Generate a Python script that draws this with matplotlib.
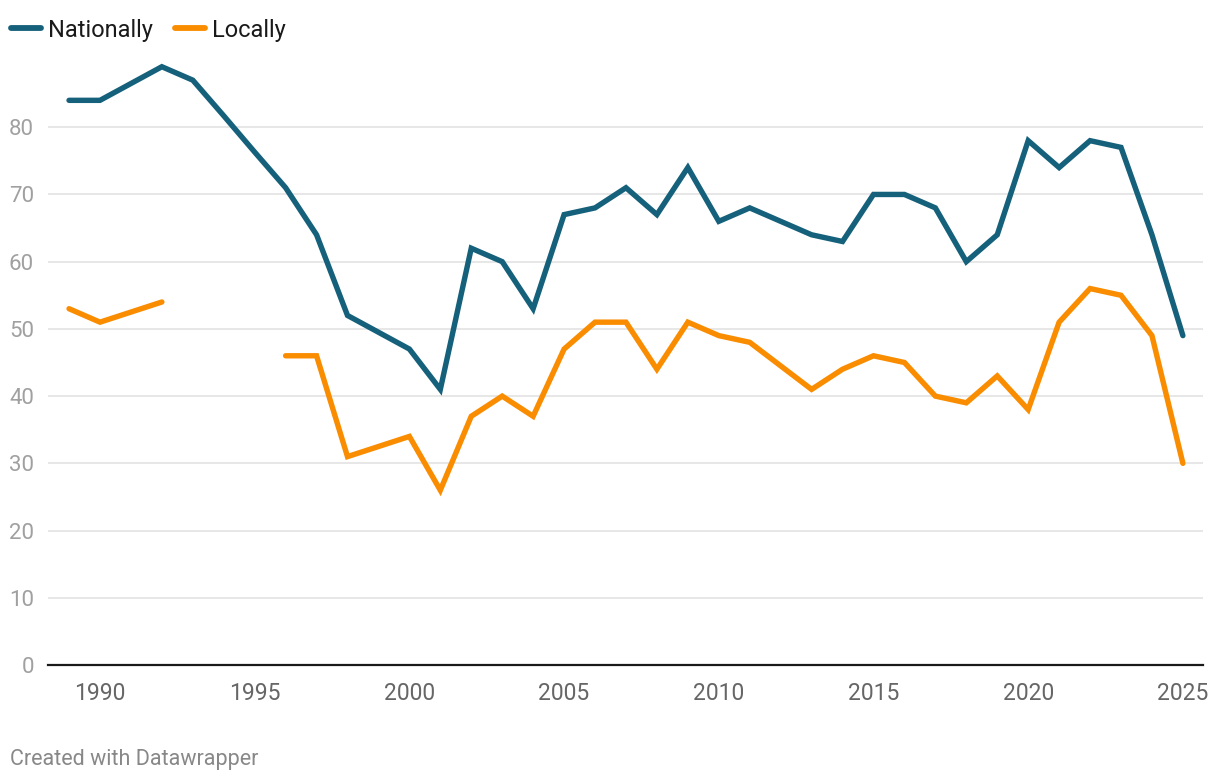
import numpy as np
import matplotlib.pyplot as plt
from matplotlib.lines import Line2D

plt.rcParams['font.family'] = ['Roboto', 'DejaVu Sans']

years = list(range(1989, 2026))
nationally = [84, 84, 86.5, 89, 87, 81.7, 76.3, 71, 64, 52, 49.5, 47, 41, 62, 60, 53,
              67, 68, 71, 67, 74, 66, 68, 66, 64, 63, 70, 70, 68, 60, 64, 78, 74,
              78, 77, 64, 49]
locally = [53, 51, 52.5, 54, np.nan, np.nan, np.nan, 46, 46, 31, 32.5, 34, 26, 37, 40, 37,
           47, 51, 51, 44, 51, 49, 48, 44.5, 41, 44, 46, 45, 40, 39, 43, 38, 51,
           56, 55, 49, 30]

blue = "#15607a"
orange = "#fa8c00"

fig = plt.figure(figsize=(12.2, 7.82), dpi=100)
ax = fig.add_axes([48 / 1220, 1 - 665 / 782, (1203 - 48) / 1220, 605 / 782])

ax.plot(years, nationally, color=blue, lw=3.9, solid_capstyle="round", solid_joinstyle="miter", clip_on=False, zorder=3)
ax.plot(years, locally, color=orange, lw=3.9, solid_capstyle="round", solid_joinstyle="miter", clip_on=False, zorder=3)

ax.set_xlim(1988.32, 2025.65)
ax.set_ylim(0, 90)
ax.set_yticks(range(0, 90, 10))
ax.set_xticks(range(1990, 2026, 5))

for s in ["top", "right", "left"]:
    ax.spines[s].set_visible(False)
ax.spines["bottom"].set_color("#1a1a1a")
ax.spines["bottom"].set_linewidth(1.6)
ax.grid(axis="y", color="#e3e3e3", lw=1.2)
ax.set_axisbelow(True)
ax.tick_params(axis="y", length=0, pad=10, labelsize=16, labelcolor="#a0a0a0")
ax.tick_params(axis="x", length=0, pad=12, labelsize=16.5, labelcolor="#666666")
for lab in ax.get_yticklabels():
    lab.set_horizontalalignment("right")

handles = [Line2D([], [], color=blue, lw=4.2, solid_capstyle="round"),
           Line2D([], [], color=orange, lw=4.2, solid_capstyle="round")]
fig.legend(handles, ["Nationally", "Locally"], loc="upper left", bbox_to_anchor=(0.0, 1 - 8 / 782),
           ncol=2, frameon=False, fontsize=17, handlelength=1.3, handletextpad=0.3,
           columnspacing=0.9, borderaxespad=0.25, borderpad=0.2, labelcolor="#1a1a1a")

fig.text(10 / 1220, 1 - 759 / 782, "Created with Datawrapper", fontsize=15.5,
         color="#888888", va="center", ha="left")

fig.savefig("out.png", dpi=100)
